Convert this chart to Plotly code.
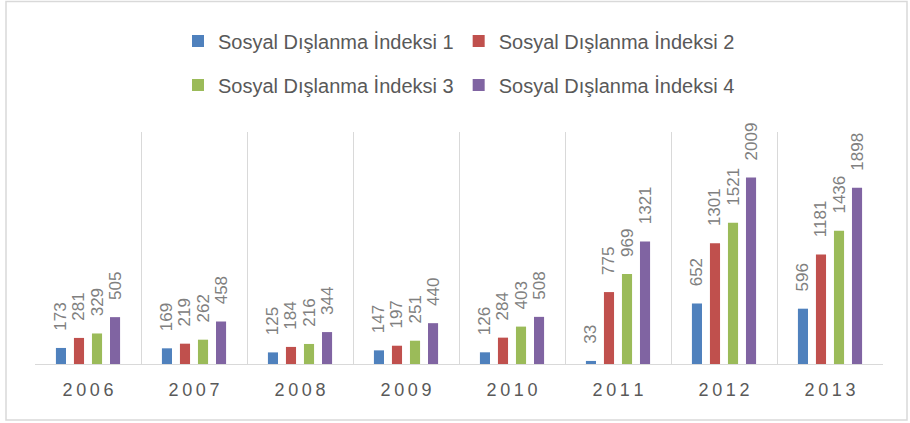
import plotly.graph_objects as go

years = ["2006", "2007", "2008", "2009", "2010", "2011", "2012", "2013"]
year_labels = ["\u2009".join(y) for y in years]
series_names = ["Sosyal Dışlanma İndeksi 1", "Sosyal Dışlanma İndeksi 2",
                "Sosyal Dışlanma İndeksi 3", "Sosyal Dışlanma İndeksi 4"]
idx1 = [173, 169, 125, 147, 126, 33, 652, 596]
idx2 = [281, 219, 184, 197, 284, 775, 1301, 1181]
idx3 = [329, 262, 216, 251, 403, 969, 1521, 1436]
idx4 = [505, 458, 344, 440, 508, 1321, 2009, 1898]
colors = ["#4F81BD", "#C0504D", "#9BBB59", "#8064A2"]

FONT = "Liberation Sans"
fig = go.Figure()
for i, (name, vals, col) in enumerate(zip(series_names, [idx1, idx2, idx3, idx4], colors)):
    fig.add_trace(go.Bar(
        x=year_labels, y=vals, name=name,
        marker=dict(color=col, line=dict(width=0)),
        text=["\u00a0\u00a0\u00a0" + str(v) for v in vals],
        textposition="outside", textangle=-90, constraintext="none",
        cliponaxis=False,
        textfont=dict(family=FONT, size=17, color="#808080"),
        legend="legend" if i < 2 else "legend2",
        hoverinfo="x+y+name",
    ))

legend_common = dict(orientation="h", xanchor="center", x=0.5, yanchor="middle",
                     font=dict(family=FONT, size=20, color="#595959"),
                     bgcolor="rgba(0,0,0,0)", itemclick=False)
fig.update_layout(
    width=910, height=423,
    margin=dict(l=35, r=27, t=132, b=59),
    paper_bgcolor="white", plot_bgcolor="white",
    barmode="group", bargap=0.32, bargroupgap=0.44,
    legend=dict(y=1.392, **legend_common),
    legend2=dict(y=1.2026, **legend_common),
    xaxis=dict(type="category", showgrid=True, gridcolor="#D9D9D9", gridwidth=1,
               tickson="boundaries", ticks="", showline=True, linecolor="#D9D9D9",
               linewidth=1, tickfont=dict(family=FONT, size=18, color="#595959"),
               ticklabelstandoff=9),
    yaxis=dict(range=[0, 2500], visible=False, showgrid=False, zeroline=False),
    shapes=[dict(type="rect", xref="paper", yref="paper",
                 x0=-0.0342, x1=1.0283, y0=-0.2414, y1=1.5625,
                 line=dict(color="#D9D9D9", width=1.5), layer="below")],
    showlegend=True,
)
fig.write_html("out.html", config={"displayModeBar": False},
               post_script="document.body.style.margin='0';")
